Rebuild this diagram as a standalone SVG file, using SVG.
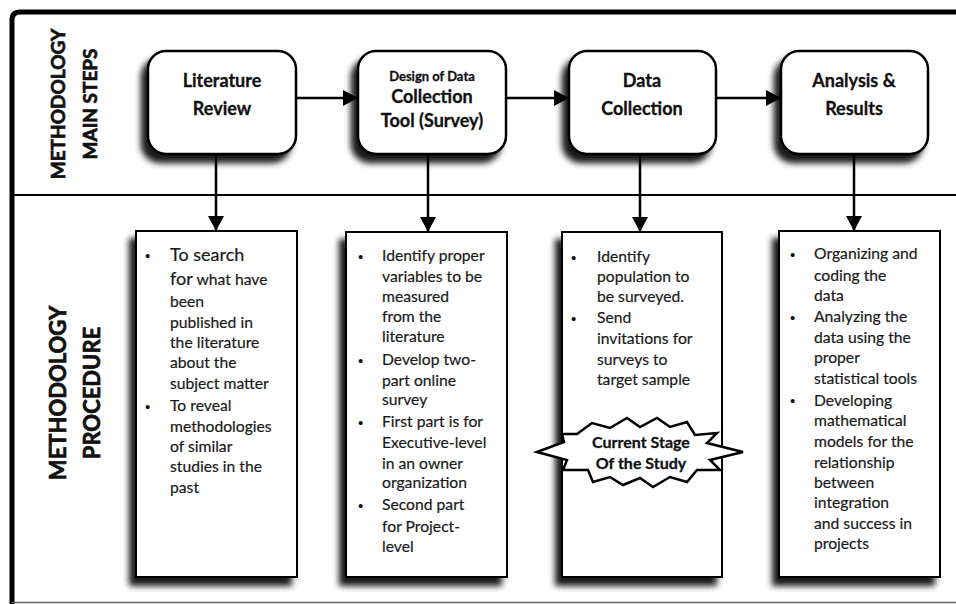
<svg xmlns="http://www.w3.org/2000/svg" width="956" height="604" viewBox="0 0 956 604">
<defs>
<filter id="sh" x="-20%" y="-20%" width="140%" height="140%">
<feDropShadow dx="-6" dy="8" stdDeviation="3" flood-color="#000" flood-opacity="0.9"/>
</filter>
<marker id="ah" markerUnits="userSpaceOnUse" markerWidth="16" markerHeight="16" refX="15" refY="8" orient="auto">
<path d="M0,0 L15,8 L0,16 Z" fill="#000"/>
</marker>
<style>
.step{fill:#fff;stroke:#000;stroke-width:2.5}
.det{fill:#fff;stroke:#000;stroke-width:2}
.st{font-family:Lato,"Liberation Sans",sans-serif;font-weight:bold;fill:#111;text-anchor:middle;stroke:#111;stroke-width:0.3}
.lab{font-family:Lato,"Liberation Sans",sans-serif;font-weight:bold;fill:#111;text-anchor:middle;stroke:#111;stroke-width:0.7}
.tx{font-family:Lato,"Liberation Sans",sans-serif;font-size:15.7px;fill:#1a1a1a;stroke:#1a1a1a;stroke-width:0.2}
.bu{font-family:"Liberation Sans",sans-serif;font-size:15px;fill:#111}
.con{stroke:#000;stroke-width:2.5;fill:none}
</style>
</defs>
<rect width="956" height="604" fill="#fff"/>
<g id="frame">
<path d="M12,604 V20 Q12,12 20,12 H956" fill="none" stroke="#000" stroke-width="5"/>
<line x1="12" y1="195" x2="956" y2="195" stroke="#000" stroke-width="2"/>
<line x1="12" y1="602.5" x2="956" y2="602.5" stroke="#666" stroke-width="1.5"/>
</g>
<g id="label-main">
<text class="lab" style="font-size:19px" transform="translate(65,104) rotate(-90)">METHODOLOGY</text>
<text class="lab" style="font-size:19px" transform="translate(97,104) rotate(-90)">MAIN STEPS</text>
</g>
<g id="label-proc">
<text class="lab" style="font-size:22px" transform="translate(66,393) rotate(-90)">METHODOLOGY</text>
<text class="lab" style="font-size:22px" transform="translate(100,393) rotate(-90)">PROCEDURE</text>
</g>
<g id="connectors">
<line class="con" x1="296" y1="98" x2="358" y2="98" marker-end="url(#ah)"/>
<line class="con" x1="506" y1="98" x2="569" y2="98" marker-end="url(#ah)"/>
<line class="con" x1="716" y1="98" x2="781" y2="98" marker-end="url(#ah)"/>
<line class="con" x1="216" y1="154" x2="216" y2="231" marker-end="url(#ah)"/>
<line class="con" x1="428" y1="154" x2="428" y2="232" marker-end="url(#ah)"/>
<line class="con" x1="640" y1="154" x2="640" y2="232" marker-end="url(#ah)"/>
<line class="con" x1="854" y1="154" x2="854" y2="231" marker-end="url(#ah)"/>
</g>
<g id="step1">
<rect class="step" x="148" y="51" width="148" height="103" rx="18" filter="url(#sh)"/>
<text class="st" style="font-size:18px" x="222" y="87">Literature</text>
<text class="st" style="font-size:18px" x="222" y="115">Review</text>
</g>
<g id="step2">
<rect class="step" x="358" y="51" width="148" height="103" rx="18" filter="url(#sh)"/>
<text class="st" style="font-size:13px" x="432" y="81">Design of Data</text>
<text class="st" style="font-size:18px" x="432" y="103">Collection</text>
<text class="st" style="font-size:18px" x="432" y="127">Tool (Survey)</text>
</g>
<g id="step3">
<rect class="step" x="569" y="51" width="147" height="103" rx="18" filter="url(#sh)"/>
<text class="st" style="font-size:18px" x="642" y="87">Data</text>
<text class="st" style="font-size:18px" x="642" y="115">Collection</text>
</g>
<g id="step4">
<rect class="step" x="781" y="51" width="147" height="103" rx="18" filter="url(#sh)"/>
<text class="st" style="font-size:18px" x="854" y="87">Analysis &amp;</text>
<text class="st" style="font-size:18px" x="854" y="115">Results</text>
</g>
<g id="detail1">
<rect class="det" x="136" y="231" width="161" height="346" filter="url(#sh)"/>
<text class="bu" x="145" y="261">•</text>
<text class="bu" x="145" y="412">•</text>
<text class="tx">
<tspan x="170" y="261" style="font-size:18px">To search</tspan>
<tspan x="170" y="285"><tspan style="font-size:18px">for</tspan> what have</tspan>
<tspan x="170" y="307">been</tspan>
<tspan x="170" y="328">published in</tspan>
<tspan x="170" y="348">the literature</tspan>
<tspan x="170" y="368">about the</tspan>
<tspan x="170" y="389">subject matter</tspan>
<tspan x="170" y="411">To reveal</tspan>
<tspan x="170" y="432">methodologies</tspan>
<tspan x="170" y="452">of similar</tspan>
<tspan x="170" y="472">studies in the</tspan>
<tspan x="170" y="493">past</tspan>
</text>
</g>
<g id="detail2">
<rect class="det" x="346" y="232" width="161" height="345" filter="url(#sh)"/>
<text class="bu" x="358" y="262">•</text>
<text class="bu" x="358" y="366">•</text>
<text class="bu" x="358" y="428">•</text>
<text class="bu" x="358" y="511">•</text>
<text class="tx">
<tspan x="382" y="261">Identify proper</tspan>
<tspan x="382" y="282">variables to be</tspan>
<tspan x="382" y="302">measured</tspan>
<tspan x="382" y="322">from the</tspan>
<tspan x="382" y="342">literature</tspan>
<tspan x="382" y="365">Develop two-</tspan>
<tspan x="382" y="386">part online</tspan>
<tspan x="382" y="405">survey</tspan>
<tspan x="382" y="427">First part is for</tspan>
<tspan x="382" y="448">Executive-level</tspan>
<tspan x="382" y="469">in an owner</tspan>
<tspan x="382" y="488">organization</tspan>
<tspan x="382" y="510">Second part</tspan>
<tspan x="382" y="532">for Project-</tspan>
<tspan x="382" y="552">level</tspan>
</text>
</g>
<g id="detail3">
<rect class="det" x="562" y="232" width="160" height="345" filter="url(#sh)"/>
<text class="bu" x="571" y="263">•</text>
<text class="bu" x="571" y="324">•</text>
<text class="tx">
<tspan x="597" y="262">Identify</tspan>
<tspan x="597" y="282">population to</tspan>
<tspan x="597" y="302">be surveyed.</tspan>
<tspan x="597" y="323">Send</tspan>
<tspan x="597" y="344">invitations for</tspan>
<tspan x="597" y="365">surveys to</tspan>
<tspan x="597" y="385">target sample</tspan>
</text>
</g>
<g id="current-stage">
<polygon points="537,452 564,442 562,434 577,434 592,423 610,428 627,418 640,427 657,418 670,427 687,422 695,435 717,433 707,443 743,452 710,460 720,470 697,470 687,482 670,477 653,487 640,478 623,485 610,477 593,482 588,470 563,470 567,460" fill="#fff" stroke="#000" stroke-width="2.5" stroke-linejoin="miter"/>
<text class="st" style="font-size:16px" x="641" y="448">Current Stage</text>
<text class="st" style="font-size:16px" x="641" y="469">Of the Study</text>
</g>
<g id="detail4">
<rect class="det" x="779" y="231" width="161" height="346" filter="url(#sh)"/>
<text class="bu" x="790" y="260">•</text>
<text class="bu" x="790" y="323">•</text>
<text class="bu" x="790" y="406">•</text>
<text class="tx">
<tspan x="814" y="259">Organizing and</tspan>
<tspan x="814" y="281">coding the</tspan>
<tspan x="814" y="301">data</tspan>
<tspan x="814" y="322">Analyzing the</tspan>
<tspan x="814" y="343">data using the</tspan>
<tspan x="814" y="363">proper</tspan>
<tspan x="814" y="384">statistical tools</tspan>
<tspan x="814" y="406">Developing</tspan>
<tspan x="814" y="426">mathematical</tspan>
<tspan x="814" y="447">models for the</tspan>
<tspan x="814" y="468">relationship</tspan>
<tspan x="814" y="488">between</tspan>
<tspan x="814" y="508">integration</tspan>
<tspan x="814" y="529">and success in</tspan>
<tspan x="814" y="549">projects</tspan>
</text>
</g>
</svg>
